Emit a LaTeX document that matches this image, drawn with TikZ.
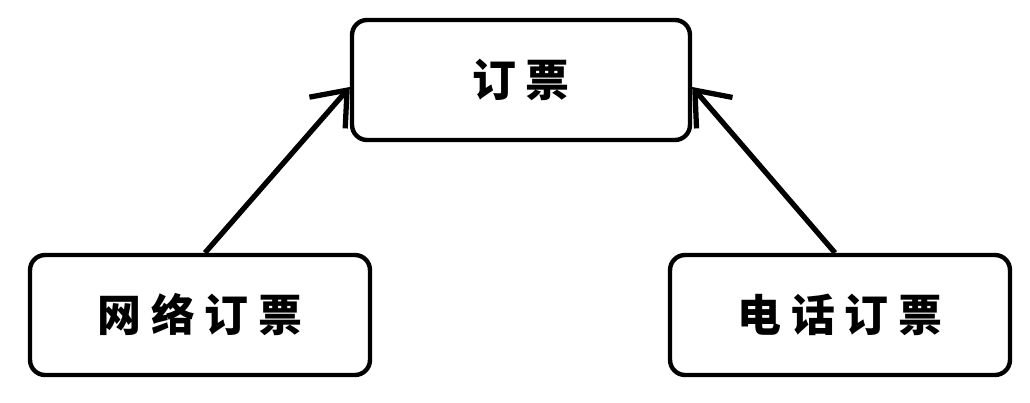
\documentclass[tikz,border=0pt]{standalone}
\usepackage{fontspec}
\newfontfamily\cjk[LetterSpace=22]{Noto Sans CJK SC}
\usepackage{tikz}
\usetikzlibrary{arrows.meta, positioning}
\tikzset{%
	every box/.style={
		draw,
		line width=2.5pt,
		rounded corners=0.3cm,
		minimum width=6.8cm,
		minimum height=2.4cm,
		font=\cjk\bfseries\fontsize{25}{30}\selectfont
	},
	flow/.style={
		line width=3pt,
		-{Straight Barb[length=0.6cm,width=0.95cm,line width=3pt]}
	},
}
\begin{document}
\begin{tikzpicture}[x=0.02cm,y=-0.02cm]
			\useasboundingbox (0,0) rectangle (1030,402);
			
			% Draw the target box
			\node[every box, minimum width=6.76cm] (order) at (521,80) {订票};
			
			% Draw the two ways of ordering
			\node[every box] (web) at (200,315) {网络订票};
			\node[every box] (phone) at (840,315) {电话订票};
			
			% Draw arrows to the target box
			\draw[flow] ([xshift=0.1cm]web.north) -- ([yshift=-0.14cm]order.west);
			\draw[flow] ([xshift=-0.1cm]phone.north) -- ([yshift=-0.14cm]order.east);
			
		\end{tikzpicture}
\end{document}
